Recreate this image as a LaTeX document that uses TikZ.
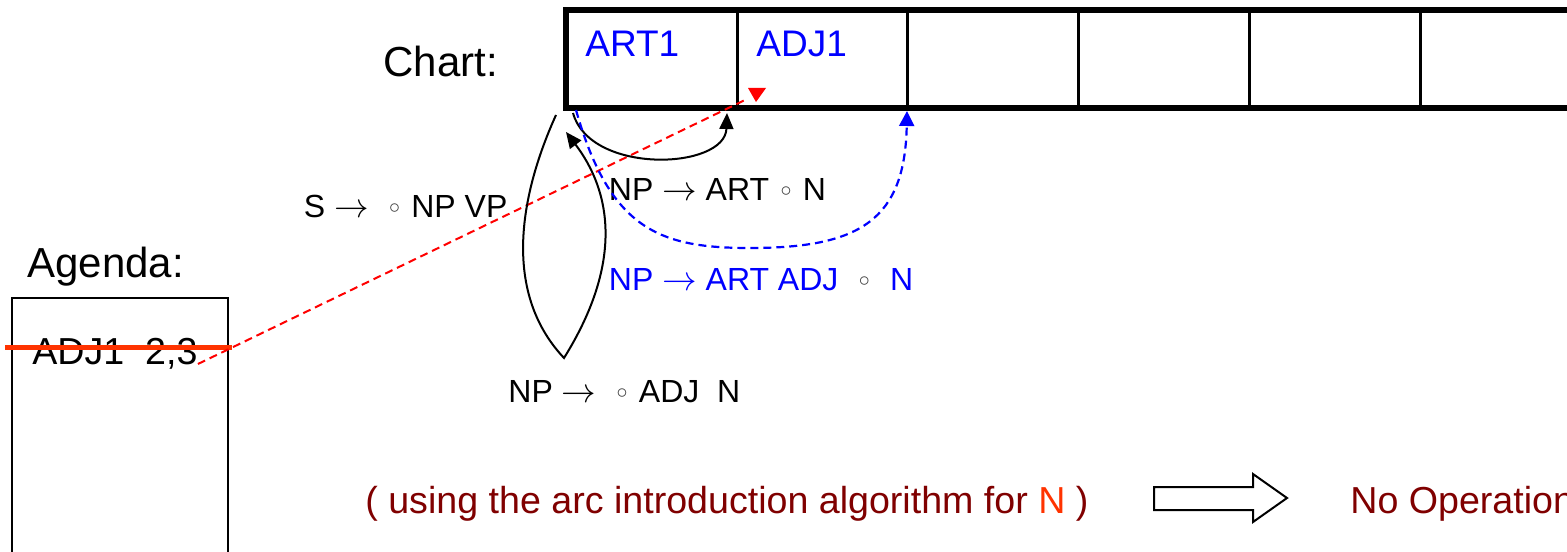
\documentclass[tikz,border=0pt]{standalone}
\usepackage{fontspec}
\setmainfont{Liberation Sans}
\usetikzlibrary{arrows.meta}
\definecolor{chblue}{RGB}{0,0,255}
\definecolor{darkred}{RGB}{128,0,0}
\definecolor{orred}{RGB}{255,51,0}
\newcommand{\rc}{\makebox[0.5em]{\textcolor{darkgray}{\raisebox{1.6pt}{$\scriptstyle\circ$}}}}
\tikzset{
  lbl/.style={inner sep=0pt, anchor=base west},
  rulelbl/.style={lbl, font=\fontsize{16}{19}\selectfont},
  celllbl/.style={lbl, font=\fontsize{18.5}{22}\selectfont, text=chblue},
  headlbl/.style={lbl, font=\fontsize{21}{25}\selectfont},
  notelbl/.style={lbl, font=\fontsize{18.8}{22}\selectfont, text=darkred},
  blackarc/.style={line width=1pt, -{Triangle[length=8pt,width=7pt]}},
  bluearc/.style={line width=1.1pt, chblue, dash pattern=on 4pt off 2.5pt, -{Triangle[length=7.5pt,width=7.5pt]}},
  reddash/.style={line width=1pt, red, dash pattern=on 4pt off 2.5pt},
}
\begin{document}
\begin{tikzpicture}[x=0.5pt,y=-0.5pt]
\clip (0,0) rectangle (1567,551);
\fill[white] (0,0) rectangle (1567,551);

% chart frame
\draw[line width=3pt, line join=miter] (566,10) rectangle (1620,108);
\foreach \xx in {737,907.5,1078,1249,1420}
  \draw[line width=1.5pt] (\xx,10) -- (\xx,108);
\node[headlbl] (chart) at (383,76) {Chart:};
\node[celllbl] (art1) at (585,57) {ART1};
\node[celllbl] (adj1) at (756,57) {ADJ1};

% agenda
\node[headlbl] (agenda) at (27,277) {Agenda:};
\draw[line width=1pt] (12,298) rectangle (228,580);
\node[lbl, font=\fontsize{18.8}{22}\selectfont] (adjag) at (32,364) {ADJ1\ \ 2,3};
\draw[orred, line width=2.5pt] (5,347) -- (232,347);

% red dashed link
\coordinate (redtip) at (745,100);
\draw[reddash] (adjag.base east) -- (redtip);
\fill[red] (748,88) -- (766,88) -- (756,102) -- cycle;

% rules
\node[rulelbl] (srule) at (303.5,217) {S $\rightarrow$\ \ \rc\ NP VP};
\node[rulelbl] (np1) at (608.5,200) {NP $\rightarrow$ ART \rc\ N};
\node[rulelbl, text=chblue] (np2) at (608.5,290) {NP $\rightarrow$ ART ADJ\ \ \rc\ \ N};
\node[rulelbl] (np3) at (508,402) {NP $\rightarrow$\ \ \rc\ ADJ\ \ N};

% arcs
\coordinate (lens0) at (556,115);
\coordinate (lensb) at (564,358);
\coordinate (lens1) at (566,132);
\draw[blackarc] (lens0) .. controls (522,190) and (500,290) .. (lensb)
   .. controls (625,260) and (610,190) .. (lens1);
\coordinate (a1s) at (573,113);
\coordinate (a1e) at (727,113);
\draw[blackarc] (a1s) .. controls (590,175) and (725,170) .. (a1e);
\coordinate (b1s) at (576,110);
\coordinate (b1m) at (750,248);
\coordinate (b1e) at (907,111);
\draw[bluearc] (b1s) .. controls (610,230) and (660,248) .. (b1m)
   .. controls (860,248) and (905,220) .. (b1e);

% bottom line
\node[notelbl] (note) at (365,513) {( using the arc introduction algorithm for \textcolor{orred}{N} )};
\draw[line width=1pt, fill=white] (1154,487) -- (1253,487) -- (1253,474) -- (1287,498)
   -- (1253,522) -- (1253,510) -- (1154,510) -- cycle;
\node[notelbl] (noop) at (1350,513) {No Operation};
\end{tikzpicture}
\end{document}
